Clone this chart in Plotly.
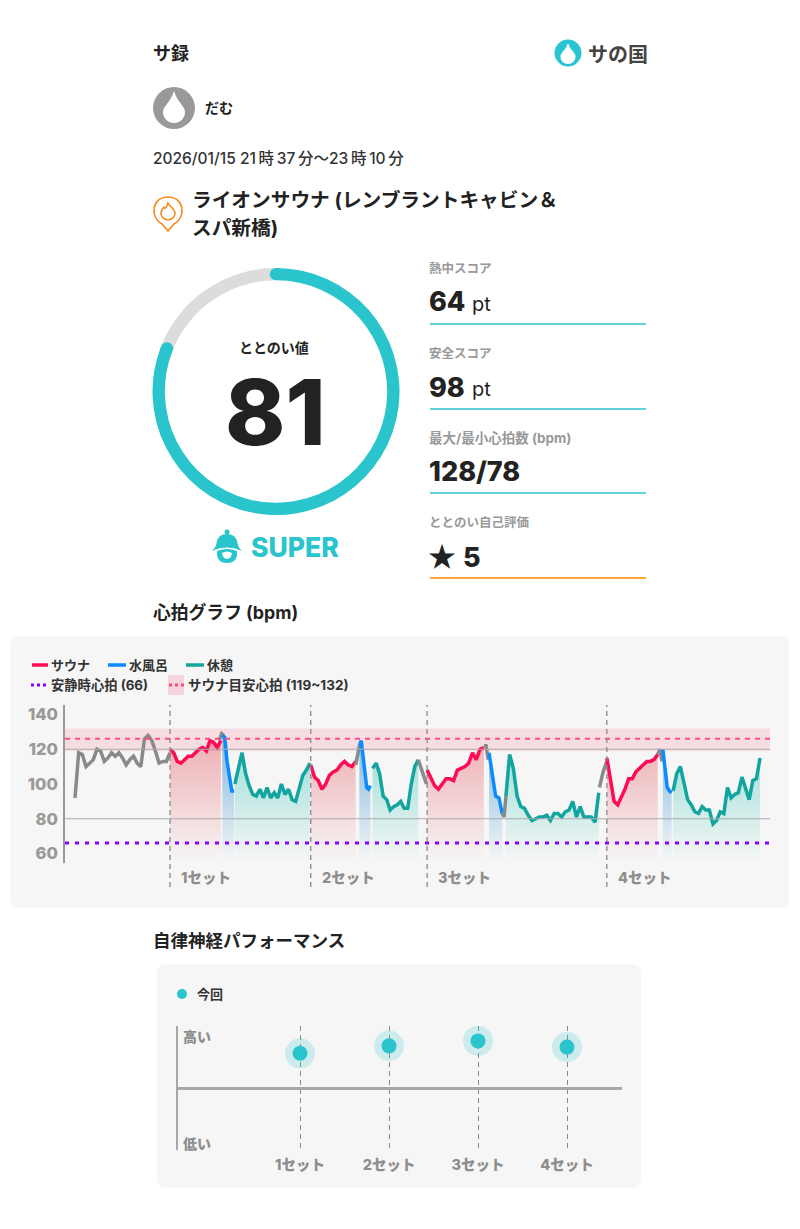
import numpy as np
import plotly.graph_objects as go

W, H = 800, 1229
FONT = "Inter, Noto Sans CJK JP"
JP = "Noto Sans CJK JP"
TEAL = "#2AC4CC"
DARK = "#222222"
GREY = "#999999"

# heart rate per phase, bpm
pre_hr = [92, 118, 117, 110, 112, 114, 120, 119, 113, 115, 118, 116, 118, 115, 111, 114, 116, 112, 110, 126, 128, 125, 119, 112, 113, 113, 118]
sauna1_hr = [120, 118, 113, 112, 114, 116, 116, 118, 120, 121, 119, 125, 124, 121, 125]
gap1_hr = [125, 129, 128]
cold1_hr = [128, 127, 113, 104, 96, 96]
rest1_hr = [100, 108, 118, 106, 99, 94, 93, 97, 92, 98, 92, 95, 92, 100, 94, 97, 91, 90, 97, 105, 108, 112]
sauna2_hr = [111, 104, 102, 97, 100, 105, 107, 108, 111, 113, 111, 110, 113]
gap2_hr = [111, 122]
cold2_hr = [122, 125, 116, 108, 98, 97, 99]
rest2_hr = [109, 112, 106, 93, 91, 85, 87, 88, 90, 86, 86, 100, 110, 114]
gap3_hr = [114, 107, 100]
sauna3_hr = [108, 103, 99, 97, 100, 103, 103, 102, 108, 109, 110, 112, 118, 114, 120, 121]
gap4_hr = [122, 122, 114]
cold3_hr = [118, 104, 93, 92, 83]
gap5_hr = [83, 81, 93]
rest3_hr = [93, 117, 109, 93, 87, 86, 82, 79, 80, 81, 81, 82, 79, 83, 83, 81, 84, 85, 90, 81, 87, 81, 81, 81, 78, 95]
gap6_hr = [98, 107, 113]
sauna4_hr = [115, 103, 90, 88, 92, 97, 103, 103, 107, 109, 111, 113, 113, 114, 117]
gap7_hr = [117, 120, 113]
cold4_hr = [120, 110, 98, 96, 95]
rest4_hr = [96, 106, 110, 100, 91, 88, 84, 83, 87, 85, 85, 77, 79, 84, 83, 98, 92, 94, 95, 104, 97, 91, 102, 103, 115]

# phase start and end, minutes after 21:37
phases = [
    ("pre", 0.0, 12.9, pre_hr), ("sauna", 12.9, 19.8, sauna1_hr), ("pre", 19.6, 20.2, gap1_hr),
    ("cold", 20.0, 21.6, cold1_hr), ("rest", 21.7, 31.9, rest1_hr), ("sauna", 32.0, 38.1, sauna2_hr),
    ("pre", 38.1, 38.6, gap2_hr), ("cold", 38.6, 40.1, cold2_hr), ("rest", 40.4, 46.6, rest2_hr),
    ("pre", 46.6, 47.7, gap3_hr), ("sauna", 47.8, 55.5, sauna3_hr), ("pre", 55.5, 56.1, gap4_hr),
    ("cold", 56.2, 58.0, cold3_hr), ("pre", 58.0, 58.5, gap5_hr), ("rest", 58.5, 71.1, rest3_hr),
    ("pre", 71.2, 72.2, gap6_hr), ("sauna", 72.2, 79.1, sauna4_hr), ("pre", 79.1, 79.7, gap7_hr),
    ("cold", 79.8, 81.0, cold4_hr), ("rest", 81.2, 93.0, rest4_hr),
]
set_labels = ["1セット", "2セット", "3セット", "4セット"]
set_starts = [12.9, 32.0, 47.8, 72.2]
resting_hr = 66
target_low, target_high, target_mid = 119, 132, 126
hr_ticks = [60, 80, 100, 120, 140]
grid_hr = [80, 120]
autonomic = [0.56, 0.68, 0.76, 0.66]
score = 81

line_colors = {"pre": "#8A8A8A", "sauna": "#FF0A54", "cold": "#0A8CFF", "rest": "#12A5A0"}
fill_rgb = {"sauna": "225,50,60", "cold": "20,125,200", "rest": "10,185,165"}
fill_alpha = {"sauna": 0.36, "cold": 0.5, "rest": 0.4}


def px(x):
    return x / W


def py(y):
    return 1 - y / H


def txt(x, y, s, size, color=DARK, weight=700, anchor="left", family=FONT):
    # annotations sit about 2px right of the asked position
    fig.add_annotation(x=px(x), y=py(y), xref="paper", yref="paper", text=s, showarrow=False, xanchor=anchor, xshift=-2,
                       yanchor="middle", borderpad=0, font=dict(size=size, color=color, weight=weight, family=family))


def circle(cx, cy, r, color, layer="above", line=None):
    fig.add_shape(type="circle", xref="paper", yref="paper", x0=px(cx - r), x1=px(cx + r), y0=py(cy + r), y1=py(cy - r),
                  fillcolor=color, line=line or dict(width=0), layer=layer)


def rule(x0, y0, x1, y1, color, width=1.5, dash="solid", layer="above"):
    fig.add_shape(type="line", xref="paper", yref="paper", x0=px(x0), x1=px(x1), y0=py(y0), y1=py(y1),
                  line=dict(color=color, width=width, dash=dash), layer=layer)


def path(points, fill="rgba(0,0,0,0)", line=None, layer="above"):
    # svg path in page pixels: tokens are commands or x,y
    out = []
    for tok in points.split():
        if "," in tok:
            a, b = tok.split(",")
            out.append(f"{px(float(a)):.5f},{py(float(b)):.5f}")
        else:
            out.append(tok)
    fig.add_shape(type="path", xref="paper", yref="paper", path=" ".join(out), fillcolor=fill,
                  line=line or dict(width=0), layer=layer)


def drop(cx, top, bottom, hw, color="white"):
    mid = bottom - hw
    k = hw * 0.56
    path(f"M {cx},{top} C {cx + hw * 0.3},{top + (mid - top) * 0.55} {cx + hw},{mid - k} {cx + hw},{mid} "
         f"C {cx + hw},{mid + k} {cx + k},{bottom} {cx},{bottom} C {cx - k},{bottom} {cx - hw},{mid + k} {cx - hw},{mid} "
         f"C {cx - hw},{mid - k} {cx - hw * 0.3},{top + (mid - top) * 0.55} {cx},{top} Z", fill=color)


def rounded(x0, y0, x1, y1, r, color):
    path(f"M {x0 + r},{y0} L {x1 - r},{y0} Q {x1},{y0} {x1},{y0 + r} L {x1},{y1 - r} Q {x1},{y1} {x1 - r},{y1} "
         f"L {x0 + r},{y1} Q {x0},{y1} {x0},{y1 - r} L {x0},{y0 + r} Q {x0},{y0} {x0 + r},{y0} Z", fill=color, layer="below")


fig = go.Figure()

# panels go first so the target band stays on top of them
rounded(10, 636, 789, 908, 10, "#F6F6F6")
rounded(157, 964, 641, 1188, 10, "#F6F6F6")

# score ring
ring_x, ring_y, ring_r = 276, 391.5, 123.5
hole = 0.9
fig.add_trace(go.Pie(values=[score, 100 - score], sort=False, direction="clockwise", rotation=0, hole=hole,
                     marker=dict(colors=[TEAL, "#DCDCDC"], line=dict(width=0)), textinfo="none", hoverinfo="skip",
                     showlegend=False,
                     domain=dict(x=[px(ring_x - ring_r), px(ring_x + ring_r)], y=[py(ring_y + ring_r), py(ring_y - ring_r)])))
cap_r = ring_r * (1 + hole) / 2
cap_w = ring_r * (1 - hole) / 2
circle(ring_x, ring_y - cap_r, cap_w, TEAL)
end = 2 * np.pi * score / 100
circle(ring_x + cap_r * np.sin(end), ring_y - cap_r * np.cos(end), cap_w, TEAL)

# heart rate traces
for phase, t0, t1, hr in phases:
    kw = {}
    if phase in fill_rgb:
        rgb = fill_rgb[phase]
        kw = dict(fill="tozeroy", fillgradient=dict(type="vertical", start=125, stop=55,
                                                    colorscale=[[0, f"rgba({rgb},{fill_alpha[phase]})"], [1, f"rgba({rgb},0)"]]))
    fig.add_trace(go.Scatter(x=np.linspace(t0, t1, len(hr)), y=hr, mode="lines", showlegend=False, hoverinfo="skip",
                             line=dict(color=line_colors[phase], width=3.5), xaxis="x", yaxis="y", **kw))

fig.add_shape(type="rect", xref="x domain", yref="y", x0=0, x1=1, y0=target_low, y1=target_high,
              fillcolor="rgba(245,110,140,0.18)", line=dict(width=0), layer="below")
for g in grid_hr:
    fig.add_shape(type="line", xref="x domain", yref="y", x0=0, x1=1, y0=g, y1=g,
                  line=dict(color="#ABABAB", width=1.2), layer="above")
fig.add_shape(type="line", xref="x domain", yref="y", x0=0, x1=1, y0=target_mid, y1=target_mid,
              line=dict(color="#FF4B7D", width=2, dash="5px,5px"), layer="above")
fig.add_shape(type="line", xref="x domain", yref="y", x0=0, x1=1, y0=resting_hr, y1=resting_hr,
              line=dict(color="#8B00FF", width=3, dash="4px,6px"), layer="above")
for t, label in zip(set_starts, set_labels):
    fig.add_shape(type="line", xref="x", yref="paper", x0=t, x1=t, y0=py(887), y1=py(705),
                  line=dict(color="#8A8A8A", width=1.3, dash="5px,4px"), layer="above")
    fig.add_annotation(x=t, y=py(877), xref="x", yref="paper", text=label, showarrow=False, xanchor="left", xshift=9,
                       yanchor="middle", font=dict(size=14.5, color="#8E8E8E", weight=800, family=FONT))

# autonomic chart
fig.add_trace(go.Scatter(x=list(range(len(set_labels))), y=autonomic, mode="markers", showlegend=False, hoverinfo="skip",
                         marker=dict(size=30, color="rgba(42,196,204,0.2)"), xaxis="x2", yaxis="y2"))
fig.add_trace(go.Scatter(x=list(range(len(set_labels))), y=autonomic, mode="markers", showlegend=False, hoverinfo="skip",
                         marker=dict(size=15, color=TEAL), xaxis="x2", yaxis="y2"))

fig.update_layout(
    width=W, height=H, margin=dict(l=0, r=0, t=0, b=0), paper_bgcolor="white", plot_bgcolor="rgba(0,0,0,0)",
    font=dict(family=FONT),
    xaxis=dict(domain=[px(65), px(770)], range=[-1.36, 94.35], visible=False),
    yaxis=dict(domain=[py(863), py(705)], range=[54.5, 145.5], tickvals=hr_ticks, showgrid=False, zeroline=False,
               showline=True, linecolor="#9A9A9A", linewidth=1.5, ticks="", ticklabelstandoff=2,
               tickfont=dict(size=16.5, color=GREY, weight=800, family=FONT)),
    xaxis2=dict(domain=[px(178), px(622)], range=[-1.371, 3.618], anchor="y2", tickvals=list(range(len(set_labels))),
                ticktext=set_labels, showgrid=True, gridcolor="#8A8A8A", griddash="5px,4px", gridwidth=1.3,
                zeroline=False, showline=False, ticks="", ticklabelstandoff=4,
                tickfont=dict(size=14.5, color="#8E8E8E", weight=800, family=FONT)),
    yaxis2=dict(domain=[py(1150), py(1026)], range=[-1, 1], anchor="x2", showticklabels=False,
                showgrid=False, zeroline=True, zerolinecolor="#A8A8A8", zerolinewidth=2.5,
                showline=True, linecolor="#A8A8A8", linewidth=1.5, ticks=""),
)

# header
txt(154, 53, "サ録", 18)
circle(568, 53, 13.5, "#29C5D3")
drop(568, 43, 64, 7.5)
txt(589, 53, "サの国", 20, "#444444", 700, family=JP)
circle(174, 108, 21, "#999999")
drop(174, 91, 123, 11)
txt(206, 108, "だむ", 14)
txt(154, 158, "2026/01/15 21\u2009時\u200937\u2009分〜23\u2009時\u200910\u2009分", 15.5, "#333333", 500)
txt(193, 200, "ライオンサウナ (レンブラントキャビン＆", 19.7)
txt(193, 228, "スパ新橋)", 19.7)

# venue pin
orange = dict(color="#F58A1F", width=1.6)
path("M 162,224 C 150,218 151,197 168,197 C 185,197 186,218 174,224 L 168,231 Z", line=orange)
path("M 168,203 C 170,207 175,209 175,213 C 175,222 161,222 161,213 C 161,210 163,208 164,207 C 165,209 166,209 168,203 Z", line=orange)

# ring texts
txt(ring_x, 348, "ととのい値", 14, anchor="center")
txt(ring_x + 1, 412, str(score), 91, weight=800, anchor="center")

# mascot and grade
circle(227, 532, 2.5, TEAL)
path("M 212,551 Q 216,548 217,541 Q 219,534 227,534 Q 235,534 237,541 Q 238,548 242,551 Q 227,544 212,551 Z", fill=TEAL)
path("M 217,551 Q 227,547 237,551 Q 238,563 227,563 Q 216,563 217,551 Z", fill=TEAL)
path("M 222,553 Q 227,550 232,553 Q 231,559 227,559 Q 223,559 222,553 Z", fill="white")
txt(252, 547, "SUPER", 26.5, TEAL, 800, family="Inter")

# stats column
txt(430, 268, "熱中スコア", 12.5, GREY)
txt(430, 302, "64", 27, weight=800)
txt(473, 304, "pt", 20, DARK, 400)
rule(430, 324, 646, 324, TEAL)
txt(430, 353, "安全スコア", 12.5, GREY)
txt(430, 387, "98", 27, weight=800)
txt(473, 389, "pt", 20, DARK, 400)
rule(430, 409, 646, 409, TEAL)
txt(430, 438, "最大/最小心拍数 (bpm)", 13.5, GREY)
txt(430, 472, "128/78", 27, weight=800)
rule(430, 493, 646, 493, TEAL)
txt(430, 522, "ととのい自己評価", 12.5, GREY)
txt(429, 555, "★", 28, family=JP)
txt(464, 557, "5", 27, weight=800)
rule(430, 578, 646, 578, "#FFA53C", 2)

# section titles
txt(154, 612, "心拍グラフ (bpm)", 17.8)
txt(154, 940, "自律神経パフォーマンス", 17.5)

# heart chart legend
rule(32, 665, 48, 665, line_colors["sauna"], 3.5)
txt(52, 665, "サウナ", 13, "#333333")
rule(108, 665, 126, 665, line_colors["cold"], 3.5)
txt(130, 665, "水風呂", 13, "#333333")
rule(186, 665, 204, 665, line_colors["rest"], 3.5)
txt(208, 665, "休憩", 13, "#333333")
rule(31, 685, 47, 685, "#8B00FF", 3, "3px,3px")
txt(52, 685, "安静時心拍 (66)", 13.3, "#333333")
path("M 168,675 L 184,675 L 184,695 L 168,695 Z", fill="rgba(245,110,140,0.25)")
rule(169, 685, 184, 685, "#FF4B7D", 3, "3px,3px")
txt(189, 685, "サウナ目安心拍 (119~132)", 13.5, "#333333")

# autonomic legend and scale words
circle(182, 994, 5, TEAL)
txt(198, 994, "今回", 13, "#333333")
txt(184, 1036, "高い", 14, "#8E8E8E", 800)
txt(184, 1143, "低い", 14, "#8E8E8E", 800)

fig.write_html("out.html", config=dict(displayModeBar=False), post_script="document.body.style.margin='0';")
